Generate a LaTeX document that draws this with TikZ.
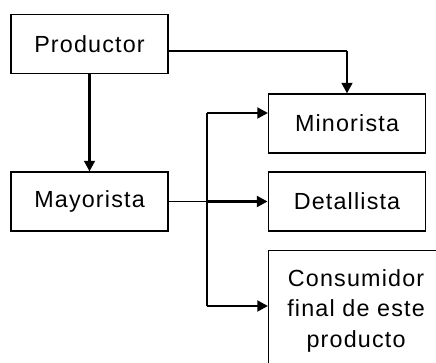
\documentclass[tikz,border=0pt]{standalone}
\usepackage{fontspec}
\setmainfont{Liberation Sans}[LetterSpace=5]
\usetikzlibrary{positioning,arrows.meta}
\tikzset{
  chbox/.style={draw, line width=1.1pt, fill=white,
    font=\fontsize{17.5}{23}\selectfont, inner sep=0pt,
    align=center, minimum width=118pt, minimum height=44pt},
  chline/.style={line width=0.9pt},
  charr/.style={-{Triangle[length=8pt,width=8pt]}, line width=2.2pt},
}

\begin{document}
\begin{tikzpicture}[x=0.75pt, y=-0.75pt]
  \useasboundingbox (0,0) rectangle (436,363);
  \clip (0,0) rectangle (436,363);
  % Left column
  \node[chbox] at (89.5,44)    (prod) {Productor};
  \node[chbox] at (89.5,201.5) (mayo) {Mayorista};
  % Right column
  \node[chbox] at (347,123.5)  (mino) {Minorista};
  \node[chbox] at (347,201.5)  (deta) {Detallista};
  \node[chbox, minimum width=131pt, minimum height=90pt, anchor=north west]
    at (268,250) (cons) {Consumidor\\final de este\\producto};
  % Joints
  \coordinate (pa) at (168,51);
  \coordinate (pb) at (347,51);
  \coordinate (ma) at (207,201.5);
  \coordinate (t1) at (207,113);
  \coordinate (t3) at (207,306);
  \coordinate (m1) at (268,113);
  \coordinate (c1) at (268,306);
  % Edges
  \draw[charr] (prod) -- (mayo);
  \draw[chline] (pa) -- (pb);
  \draw[charr] (pb) -- (mino);
  \draw[chline] (mayo) -- (ma);
  \draw[chline, line width=1.3pt] (t1) -- (t3);
  \draw[charr] (t1) -- (m1);
  \draw[charr] (ma) -- (deta);
  \draw[charr] (t3) -- (c1);
\end{tikzpicture}
\end{document}
